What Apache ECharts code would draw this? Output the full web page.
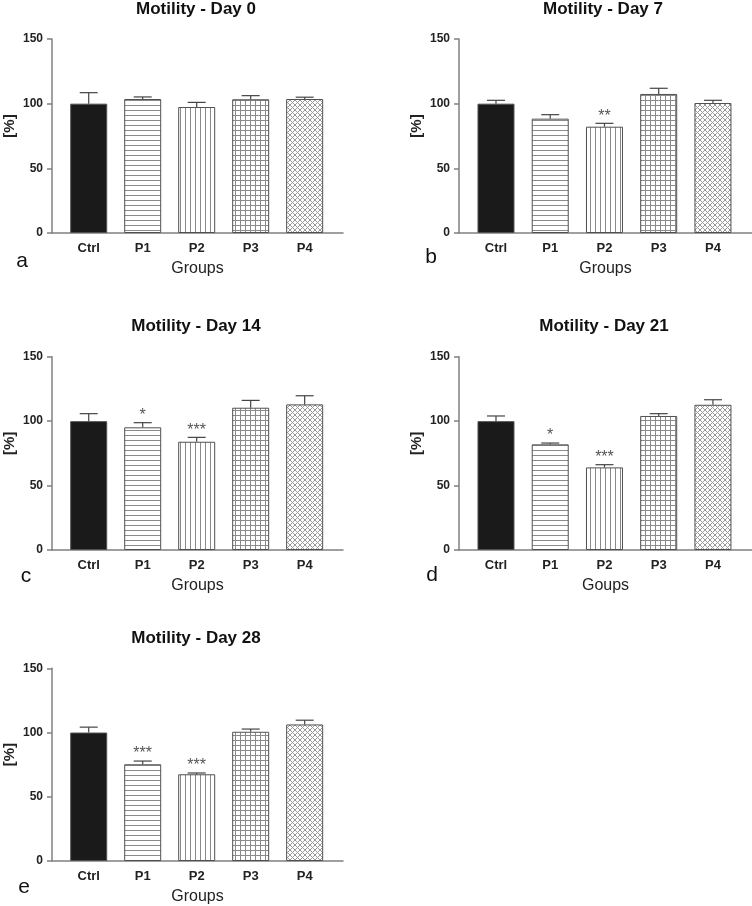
<!DOCTYPE html>
<html><head><meta charset="utf-8">
<script src="https://cdn.jsdelivr.net/npm/echarts@6/dist/echarts.min.js"></script>
<style>html,body{margin:0;padding:0;background:#fff}#c{width:752px;height:906px}</style>
</head><body><div id="c"></div>
<script>
// ---- data ----
const categories = ['Ctrl', 'P1', 'P2', 'P3', 'P4'];
const dayTitles = ['Motility - Day 0', 'Motility - Day 7', 'Motility - Day 14', 'Motility - Day 21', 'Motility - Day 28'];
const panelLetters = ['a', 'b', 'c', 'd', 'e'];
const xAxisNames = ['Groups', 'Groups', 'Groups', 'Goups', 'Groups'];
const yAxisName = '[%]';
const yMin = 0, yMax = 150, yStep = 50;

const meanDay0 = [100, 103.6, 97.4, 103.4, 103.6];
const errDay0 = [8.5, 1.6, 3.6, 2.8, 1.4];
const sigDay0 = ['', '', '', '', ''];

const meanDay7 = [100, 88.4, 82.2, 107.5, 100.5];
const errDay7 = [2.6, 3.1, 2.6, 4.4, 2.1];
const sigDay7 = ['', '', '**', '', ''];

const meanDay14 = [100, 95.2, 84.0, 110.4, 113.0];
const errDay14 = [5.8, 3.6, 3.4, 5.7, 6.7];
const sigDay14 = ['', '*', '***', '', ''];

const meanDay21 = [100, 82.0, 64.1, 104.0, 112.7];
const errDay21 = [4.0, 1.0, 2.1, 1.8, 3.9];
const sigDay21 = ['', '*', '***', '', ''];

const meanDay28 = [100, 75.3, 67.5, 100.6, 106.3];
const errDay28 = [4.2, 2.5, 1.0, 2.1, 3.3];
const sigDay28 = ['', '***', '***', '', ''];

const means = [meanDay0, meanDay7, meanDay14, meanDay21, meanDay28];
const errs = [errDay0, errDay7, errDay14, errDay21, errDay28];
const sigs = [sigDay0, sigDay7, sigDay14, sigDay21, sigDay28];

// ---- layout / style ----
const FONT = 'Liberation Sans, Arial, sans-serif';
const AX = '#808080';
const grids = [
  {left: 52, top: 39, width: 291, height: 194},
  {left: 459, top: 39, width: 293, height: 194},
  {left: 52, top: 356.7, width: 291, height: 193.3},
  {left: 459, top: 356.7, width: 293, height: 193.3},
  {left: 52, top: 668.3, width: 291, height: 193.4}
];
const xRanges = [[-0.68, 4.71], [-0.682, 4.72], [-0.68, 4.71], [-0.682, 4.72], [-0.68, 4.71]];
const titlePos = [[196, 1], [603, 1], [196, 318], [604, 318], [196, 630]];
const letterPos = [[22, 251], [431, 247], [26, 566], [432, 565], [24, 877]];

function makePattern(kind) {
  const c = document.createElement('canvas');
  const w = 5, h = 5;
  c.width = w; c.height = h;
  const g = c.getContext('2d');
  g.fillStyle = '#fff'; g.fillRect(0, 0, w, h);
  g.fillStyle = '#8a8a8a';
  if (kind === 'h') g.fillRect(0, 0, w, 1);
  if (kind === 'v') g.fillRect(0, 0, 1, h);
  if (kind === 'grid') { g.fillRect(0, 0, w, 1); g.fillRect(0, 0, 1, h); }
  if (kind === 'diag') {
    g.fillStyle = '#9a9a9a';
    for (let i = 0; i < w; i++) { g.fillRect(i, i, 1, 1); g.fillRect(w - 1 - i, i, 1, 1); }
  }
  return c;
}
const fills = [
  '#1a1a1a',
  {image: makePattern('h'), repeat: 'repeat'},
  {image: makePattern('v'), repeat: 'repeat'},
  {image: makePattern('grid'), repeat: 'repeat'},
  {image: makePattern('diag'), repeat: 'repeat'}
];

const option = {
  animation: false,
  backgroundColor: '#fff',
  title: [],
  grid: [],
  xAxis: [],
  yAxis: [],
  series: []
};

for (let p = 0; p < 5; p++) {
  option.title.push({
    text: dayTitles[p], left: titlePos[p][0], top: titlePos[p][1], textAlign: 'center', padding: 0,
    textStyle: {fontFamily: FONT, fontSize: 17, fontWeight: 'bold', color: '#111'}
  });
  option.title.push({
    text: panelLetters[p], left: letterPos[p][0], top: letterPos[p][1], textAlign: 'center', padding: 0,
    textStyle: {fontFamily: FONT, fontSize: 21, fontWeight: 'normal', color: '#111'}
  });
  option.grid.push(Object.assign({containLabel: false}, grids[p]));
  option.xAxis.push({
    gridIndex: p, type: 'value', min: xRanges[p][0], max: xRanges[p][1],
    axisLine: {show: true, onZero: false, lineStyle: {color: AX, width: 1.5}},
    axisTick: {show: false}, splitLine: {show: false},
    axisLabel: {
      customValues: [0, 1, 2, 3, 4],
      formatter: v => categories[Math.round(v)],
      fontFamily: FONT, fontSize: 13, fontWeight: 'bold', color: '#222', margin: 9
    },
    name: xAxisNames[p], nameLocation: 'middle', nameGap: 28,
    nameTextStyle: {fontFamily: FONT, fontSize: 16, color: '#222'}
  });
  option.yAxis.push({
    gridIndex: p, type: 'value', min: yMin, max: yMax, interval: yStep,
    axisLine: {show: true, onZero: false, lineStyle: {color: AX, width: 1.5}},
    axisTick: {show: true, length: 5, lineStyle: {color: AX, width: 1.5}},
    splitLine: {show: false},
    axisLabel: {fontFamily: FONT, fontSize: 12, fontWeight: 'bold', color: '#222', margin: 9},
    name: yAxisName, nameLocation: 'middle', nameRotate: 90, nameGap: 35,
    nameTextStyle: {fontFamily: FONT, fontSize: 15, fontWeight: 'bold', color: '#222', padding: [0, 0, 0, 20]}
  });
  const m = means[p], e = errs[p], s = sigs[p];
  option.series.push({
    type: 'bar', xAxisIndex: p, yAxisIndex: p, barWidth: 37,
    data: m.map((v, i) => ({value: [i, v], itemStyle: {color: fills[i]}})),
    itemStyle: {borderColor: '#505050', borderWidth: 1}
  });
  option.series.push({
    type: 'custom', xAxisIndex: p, yAxisIndex: p, z: 5,
    data: m.map((v, i) => [i, v, e[i]]),
    renderItem: (params, api) => {
      const x = api.value(0), mv = api.value(1), ev = api.value(2);
      const b = api.coord([x, mv]);
      const t = api.coord([x, mv + ev]);
      const half = 9;
      const st = {stroke: '#444', lineWidth: 1.2};
      const children = [
        {type: 'line', shape: {x1: b[0], y1: b[1], x2: t[0], y2: t[1]}, style: st},
        {type: 'line', shape: {x1: t[0] - half, y1: t[1], x2: t[0] + half, y2: t[1]}, style: st}
      ];
      const lab = s[params.dataIndex];
      if (lab) {
        children.push({type: 'text', x: t[0], y: t[1] + 1,
          style: {text: lab, fill: '#555', font: '16px ' + FONT, textAlign: 'center', textVerticalAlign: 'bottom'}});
      }
      return {type: 'group', children};
    }
  });
}

const chart = echarts.init(document.getElementById('c'), null, {renderer: 'canvas'});
chart.setOption(option);
</script>
</body></html>
